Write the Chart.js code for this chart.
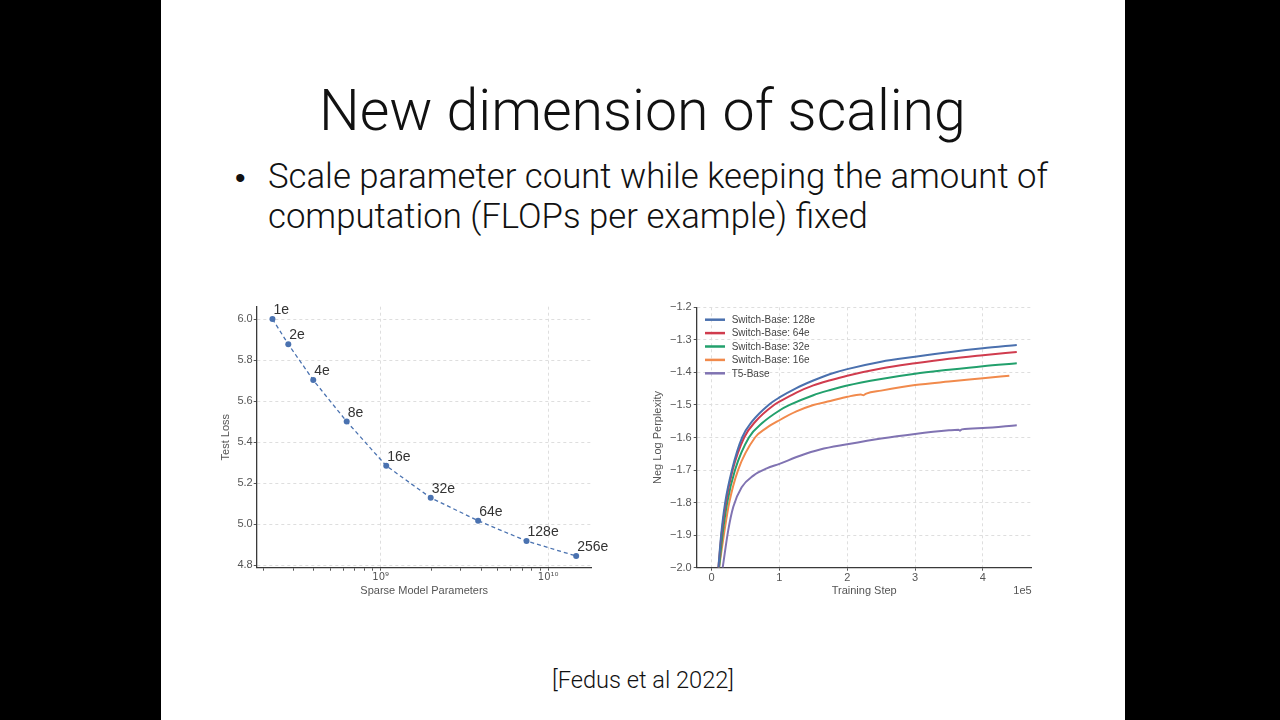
<!DOCTYPE html>
<html><head><meta charset="utf-8">
<script src="https://cdn.jsdelivr.net/npm/chart.js@4"></script>
<style>
html,body{margin:0;padding:0;background:#000;width:1280px;height:720px;overflow:hidden}
#slide{position:absolute;left:161px;top:0;width:964px;height:720px;background:#fff}
#txt{position:absolute;left:0;top:0;width:1280px;height:720px}
.cv{position:absolute}
</style></head>
<body>
<div id="slide"></div>
<svg id="txt" width="1280" height="720" xmlns="http://www.w3.org/2000/svg" font-family="Roboto, 'Liberation Sans', Arial, sans-serif" font-weight="300" fill="#111">
  <text id="title" x="319" y="130" font-size="56">New dimension of scaling</text>
  <text id="bul" x="235" y="188" font-size="30" font-family="'Liberation Sans', Arial, sans-serif" font-weight="400">•</text>
  <text id="l1" x="268" y="188" font-size="30">Scale parameter count while keeping the amount of</text>
  <text id="l2" x="268" y="228" font-size="30">computation (FLOPs per example) fixed</text>
  <text id="cite" x="552" y="688" font-size="22">[Fedus et al 2022]</text>
</svg>
<canvas id="c1" class="cv" width="400" height="310" style="left:215px;top:295px"></canvas>
<canvas id="c2" class="cv" width="400" height="310" style="left:645px;top:295px"></canvas>
<script>
// ---------- Left chart data ----------
const paramCounts = [2.26e8, 2.81e8, 3.96e8, 6.27e8, 1.08e9, 1.99e9, 3.82e9, 7.43e9, 1.47e10];
const testLoss = [6.000, 5.877, 5.702, 5.500, 5.284, 5.128, 5.016, 4.917, 4.844];
const expertLabels = ['1e', '2e', '4e', '8e', '16e', '32e', '64e', '128e', '256e'];
const lossTicks = [4.8, 5.0, 5.2, 5.4, 5.6, 5.8, 6.0];
const paramTicks = [2e8,3e8,4e8,5e8,6e8,7e8,8e8,9e8,1e9,2e9,3e9,4e9,5e9,6e9,7e9,8e9,9e9,1e10];

// ---------- Right chart data (training step in units of 1e5) ----------
const seriesNames = ['Switch-Base: 128e', 'Switch-Base: 64e', 'Switch-Base: 32e', 'Switch-Base: 16e', 'T5-Base'];
const seriesColors = ['#4a70ae', '#d03c4e', '#22a06c', '#f18a4c', '#8073b2'];
const sb128Steps = [0.10,0.14,0.20,0.30,0.45,0.60,0.84,1.0,1.25,1.5,1.75,2.0,2.5,3.0,3.5,4.0,4.5];
const sb128Vals  = [-2.0,-1.9,-1.8,-1.7,-1.6,-1.55,-1.5,-1.477,-1.448,-1.425,-1.405,-1.39,-1.367,-1.352,-1.338,-1.326,-1.316];
const sb64Steps  = [0.10,0.145,0.21,0.31,0.48,0.65,0.92,1.0,1.25,1.5,1.75,2.0,2.5,3.0,3.5,4.0,4.5];
const sb64Vals   = [-2.0,-1.9,-1.8,-1.7,-1.6,-1.55,-1.5,-1.49,-1.462,-1.44,-1.424,-1.41,-1.388,-1.372,-1.358,-1.347,-1.337];
const sb32Steps  = [0.11,0.16,0.23,0.345,0.55,0.75,1.0,1.15,1.5,1.75,2.0,2.5,3.0,3.5,4.0,4.5];
const sb32Vals   = [-2.0,-1.9,-1.8,-1.7,-1.6,-1.555,-1.517,-1.5,-1.47,-1.454,-1.44,-1.42,-1.404,-1.392,-1.381,-1.372];
const sb16Steps  = [0.11,0.18,0.26,0.39,0.64,0.80,1.0,1.25,1.5,1.75,2.0,2.2,2.24,2.28,2.5,3.0,3.5,4.0,4.39];
const sb16Vals   = [-2.0,-1.9,-1.8,-1.7,-1.6,-1.572,-1.547,-1.52,-1.50,-1.488,-1.475,-1.468,-1.470,-1.465,-1.456,-1.439,-1.428,-1.418,-1.410];
const t5Steps    = [0.163,0.246,0.32,0.443,0.616,0.813,1.0,1.305,1.6,2.0,2.5,3.0,3.5,3.64,3.66,3.69,4.0,4.5];
const t5Vals     = [-2.0,-1.884,-1.813,-1.753,-1.717,-1.695,-1.681,-1.656,-1.637,-1.621,-1.603,-1.589,-1.578,-1.576,-1.579,-1.575,-1.571,-1.562];
const stepTicks = [0, 1, 2, 3, 4];
const nllTicks = [-2.0,-1.9,-1.8,-1.7,-1.6,-1.5,-1.4,-1.3,-1.2];

// ---------- slide text fitting ----------
function fitText(id, left, right) {
  const el = document.getElementById(id);
  const fs = parseFloat(el.getAttribute('font-size'));
  const w = el.getComputedTextLength();
  const nfs = fs * (right - left) / w;
  el.setAttribute('font-size', nfs.toFixed(2));
  el.setAttribute('x', left);
  return nfs;
}
fitText('title', 319, 966);
const bfs = fitText('l1', 268, 1048);
document.getElementById('l2').setAttribute('font-size', bfs.toFixed(2));
fitText('cite', 552, 734);

// ---------- charts ----------
const FONT = "'Liberation Sans', Arial, sans-serif";
Chart.defaults.font.family = FONT;
Chart.defaults.color = '#555';
const GRID = '#dedede';
const AXIS = '#3a3a3a';
const sup = {'0':'⁰','1':'¹','2':'²','3':'³','4':'⁴','5':'⁵','6':'⁶','7':'⁷','8':'⁸','9':'⁹'};
const isPow10 = v => Math.abs(Math.log10(v) - Math.round(Math.log10(v))) < 1e-9;

const pointLabelPlugin = {
  id: 'pointLabels',
  afterDatasetsDraw(chart) {
    const ctx = chart.ctx;
    const meta = chart.getDatasetMeta(0);
    ctx.save();
    ctx.fillStyle = '#333';
    ctx.font = '14px ' + FONT;
    ctx.textAlign = 'left';
    ctx.textBaseline = 'alphabetic';
    meta.data.forEach((pt, i) => {
      ctx.fillText(expertLabels[i], pt.x + 1, pt.y - 5);
    });
    ctx.restore();
  }
};

new Chart(document.getElementById('c1'), {
  type: 'line',
  data: {
    datasets: [{
      data: paramCounts.map((x, i) => ({x: x, y: testLoss[i]})),
      borderColor: '#4a72b0',
      backgroundColor: '#4a72b0',
      borderWidth: 1.3,
      borderDash: [4, 3],
      pointRadius: 3,
      pointBorderWidth: 0,
      pointBackgroundColor: '#4a72b0',
      tension: 0
    }]
  },
  options: {
    responsive: false,
    animation: false,
    devicePixelRatio: 1,
    layout: {padding: {left: 0, top: 11.7, right: 23.3, bottom: 0}},
    plugins: {legend: {display: false}, tooltip: {enabled: false}},
    scales: {
      x: {
        type: 'logarithmic',
        min: 1.82e8, max: 1.82e10,
        afterBuildTicks: s => { s.ticks = paramTicks.map(v => ({value: v, major: isPow10(v)})); },
        afterFit: s => { s.height = 37.3; },
        ticks: {
          autoSkip: false, maxRotation: 0, padding: 1,
          font: {size: 10, family: "'DejaVu Sans', sans-serif"}, color: '#555',
          callback: v => isPow10(v) ? '10' + String(Math.round(Math.log10(v))).split('').map(c => sup[c]).join('') : ''
        },
        grid: {
          color: c => (c.tick && isPow10(c.tick.value)) ? GRID : 'rgba(0,0,0,0)',
          tickColor: '#555', tickLength: 3, lineWidth: 1
        },
        border: {display: true, color: AXIS, width: 1.3, dash: [3, 3]},
        title: {display: true, text: 'Sparse Model Parameters', font: {size: 11}, color: '#555', padding: {top: 0, bottom: 7}}
      },
      y: {
        min: 4.787, max: 6.06,
        afterBuildTicks: s => { s.ticks = lossTicks.map(v => ({value: v})); },
        afterFit: s => { s.width = 41.7; },
        ticks: {padding: 1, font: {size: 11}, color: '#555', callback: v => v.toFixed(1)},
        grid: {color: GRID, tickColor: '#555', tickLength: 3},
        border: {display: true, color: AXIS, width: 1.3, dash: [3, 3]},
        title: {display: true, text: 'Test Loss', font: {size: 11}, color: '#555', padding: {top: 4, bottom: 0}}
      }
    }
  },
  plugins: [pointLabelPlugin]
});

const legendPlugin = {
  id: 'inlineLegend',
  afterDraw(chart) {
    const ctx = chart.ctx, ca = chart.chartArea;
    ctx.save();
    chart.data.datasets.forEach((ds, i) => {
      const y = ca.top + 12.4 + i * 13.4;
      ctx.strokeStyle = ds.borderColor;
      ctx.lineWidth = 2.5;
      ctx.beginPath();
      ctx.moveTo(ca.left + 8.3, y);
      ctx.lineTo(ca.left + 28.3, y);
      ctx.stroke();
      ctx.fillStyle = '#444';
      ctx.font = '10px ' + FONT;
      ctx.textAlign = 'left';
      ctx.textBaseline = 'middle';
      ctx.fillText(ds.label, ca.left + 35, y + 0.5);
    });
    ctx.fillStyle = '#555';
    ctx.font = '11px ' + FONT;
    ctx.textAlign = 'right';
    ctx.textBaseline = 'middle';
    ctx.fillText('1e5', ca.right, 591 - 295);
    ctx.restore();
  }
};

const stepsList = [sb128Steps, sb64Steps, sb32Steps, sb16Steps, t5Steps];
const valsList = [sb128Vals, sb64Vals, sb32Vals, sb16Vals, t5Vals];

new Chart(document.getElementById('c2'), {
  type: 'line',
  data: {
    datasets: seriesNames.map((name, k) => ({
      label: name,
      data: stepsList[k].map((x, i) => ({x: x, y: valsList[k][i]})),
      borderColor: seriesColors[k],
      backgroundColor: seriesColors[k],
      borderWidth: 2,
      pointRadius: 0,
      cubicInterpolationMode: 'monotone',
      fill: false
    }))
  },
  options: {
    responsive: false,
    animation: false,
    devicePixelRatio: 1,
    layout: {padding: {left: 0, top: 12.3, right: 13.3, bottom: 0}},
    plugins: {legend: {display: false}, tooltip: {enabled: false}},
    scales: {
      x: {
        type: 'linear',
        min: -0.22, max: 4.72,
        afterBuildTicks: s => { s.ticks = stepTicks.map(v => ({value: v})); },
        afterFit: s => { s.height = 37.3; },
        ticks: {autoSkip: false, maxRotation: 0, padding: 1, font: {size: 11}, color: '#555', callback: v => String(v)},
        grid: {color: GRID, tickColor: '#555', tickLength: 3},
        border: {display: true, color: AXIS, width: 1.3, dash: [3, 3]},
        title: {display: true, text: 'Training Step', font: {size: 11}, color: '#555', padding: {top: 0, bottom: 7}}
      },
      y: {
        min: -2.0, max: -1.2,
        afterBuildTicks: s => { s.ticks = nllTicks.map(v => ({value: v})); },
        afterFit: s => { s.width = 51.7; },
        ticks: {padding: 2, font: {size: 11}, color: '#555', callback: v => v.toFixed(1).replace('-', '\u2212')},
        grid: {color: GRID, tickColor: '#555', tickLength: 3},
        border: {display: true, color: AXIS, width: 1.3, dash: [3, 3]},
        title: {display: true, text: 'Neg Log Perplexity', font: {size: 11}, color: '#555', padding: {top: 6, bottom: 0}}
      }
    }
  },
  plugins: [legendPlugin]
});
</script>
</body></html>
